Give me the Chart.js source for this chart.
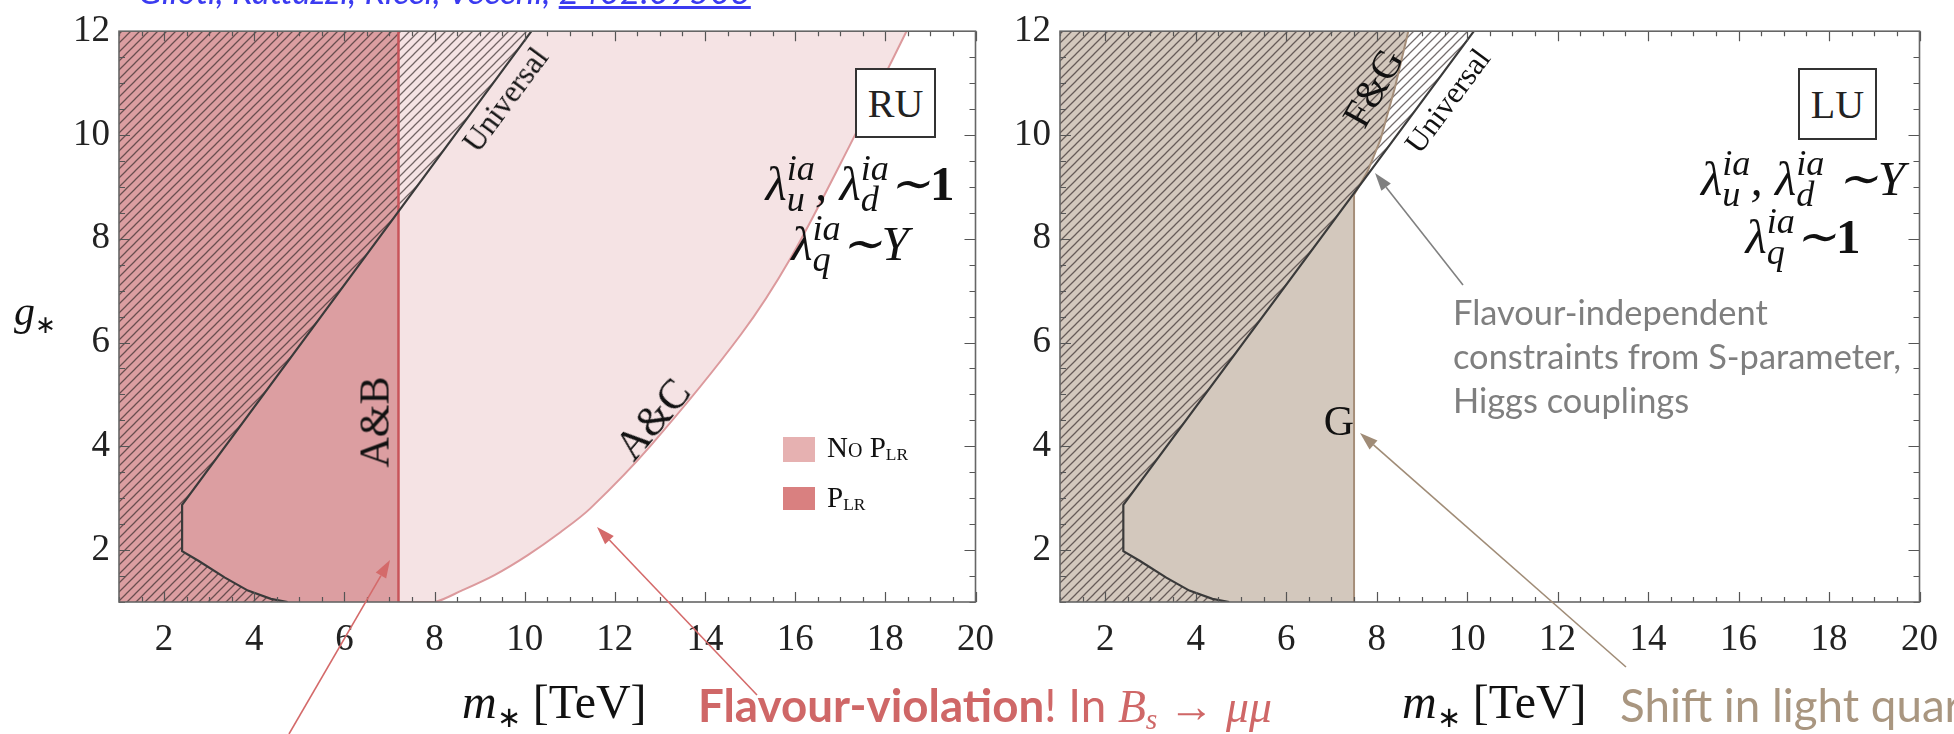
<!DOCTYPE html>
<html>
<head>
<meta charset="utf-8">
<script src="https://cdn.jsdelivr.net/npm/chart.js@4.4.1/dist/chart.umd.min.js"></script>
<style>
html, body { margin: 0; padding: 0; background: #fff; }
body { width: 1954px; height: 734px; position: relative; overflow: hidden; font-family: "Liberation Serif", serif; }
.wrap { position: absolute; top: 0; height: 734px; }
#wLeft { left: 0; width: 1010px; }
#wRight { left: 995px; width: 959px; }
.lbl { position: absolute; left: 0; top: 0; white-space: nowrap; line-height: 1; }
.bl { display: inline-block; width: 0; height: 0; }
.math { font-family: "Liberation Serif", serif; font-style: italic; font-size: 49px; color: #111; }
.ss { display: inline-block; vertical-align: -11px; font-size: 0.74em; line-height: 0.86; }
.ss span { display: block; }
.box { position: absolute; border: 2px solid #333; box-sizing: border-box; background: #fff;
       font-family: "Liberation Serif", serif; font-size: 40px; color: #222;
       display: flex; align-items: center; justify-content: center; }
.sw { position: absolute; }
svg { position: absolute; left: 0; top: 0; }
</style>
</head>
<body>

<div class="wrap" id="wLeft"><canvas id="ruChart"></canvas></div>
<div class="wrap" id="wRight"><canvas id="luChart"></canvas></div>

<script>
// ==========================
// DATA
// ==========================

// axes
const xTicks = [2, 4, 6, 8, 10, 12, 14, 16, 18, 20];
const yTicks = [2, 4, 6, 8, 10, 12];
const xRange = [1, 20];
const yRange = [1, 12];

// "Universal" bound (same in RU and LU), from top down to the m* axis
const universalM = [10.15, 2.4, 2.4, 2.77, 3.35, 3.86, 4.37, 4.74];
const universalG = [12, 2.87, 1.98, 1.79, 1.47, 1.22, 1.06, 1.0];

// RU: A&B bound (P_LR) at fixed m*
const abM = [7.2, 7.2];
const abG = [1, 12];

// RU: A&C bound (no P_LR)
const acM = [7.2, 8.0, 8.6, 9.33, 10.06, 10.8, 11.45, 12.8, 14.8, 15.9, 17.2, 18.47];
const acG = [1, 1.0, 1.22, 1.52, 1.9, 2.35, 2.8, 4.02, 6.16, 7.63, 9.78, 12];

// LU: G bound and F&G bound
const fgM = [7.5, 7.5, 7.8, 8.08, 8.4, 8.7];
const fgG = [1, 8.85, 9.3, 9.9, 10.9, 12];

const pts = (ms, gs) => ms.map((m, i) => ({ x: m, y: gs[i] }));

// hatch pattern for the universal exclusion
function makeHatch(color) {
    const s = 9;
    const c = document.createElement("canvas");
    c.width = s;
    c.height = s;
    const g = c.getContext("2d");
    g.strokeStyle = color;
    g.lineWidth = 1.25;
    g.beginPath();
    g.moveTo(0, s); g.lineTo(s, 0);
    g.moveTo(-s / 2, s / 2); g.lineTo(s / 2, -s / 2);
    g.moveTo(s / 2, s * 1.5); g.lineTo(s * 1.5, s / 2);
    g.stroke();
    return g.createPattern(c, "repeat");
}

// frame + inward ticks on all four sides
const frameTicks = {
    id: "frameTicks",
    afterDatasetsDraw(chart) {
        const { ctx, chartArea: a, scales: { x, y } } = chart;
        ctx.save();
        ctx.strokeStyle = "#555";
        ctx.lineWidth = 1.2;
        ctx.beginPath();
        for (let v = xRange[0]; v <= xRange[1]; v += 0.5) {
            const px = Math.round(x.getPixelForValue(v)) + 0.5;
            const len = xTicks.includes(v) ? 10 : 5;
            ctx.moveTo(px, a.bottom); ctx.lineTo(px, a.bottom - len);
            ctx.moveTo(px, a.top); ctx.lineTo(px, a.top + len);
        }
        for (let v = yRange[0]; v <= yRange[1]; v += 0.5) {
            const py = Math.round(y.getPixelForValue(v)) + 0.5;
            const len = yTicks.includes(v) ? 11 : 6;
            ctx.moveTo(a.left, py); ctx.lineTo(a.left + len, py);
            ctx.moveTo(a.right, py); ctx.lineTo(a.right - len, py);
        }
        ctx.stroke();
        ctx.lineWidth = 1.6;
        ctx.strokeStyle = "#666";
        ctx.strokeRect(a.left, a.top, a.right - a.left, a.bottom - a.top);
        ctx.restore();
    }
};

const tickFont = { family: "Liberation Serif", size: 37 };

function makeChart(id, datasets, yWidth, padRight) {
    return new Chart(document.getElementById(id), {
        type: "line",
        data: { datasets },
        options: {
            responsive: true,
            maintainAspectRatio: false,
            animation: false,
            layout: { padding: { top: 23, right: padRight, left: 0, bottom: 0 } },
            plugins: { legend: { display: false }, tooltip: { enabled: false } },
            elements: { point: { radius: 0 }, line: { tension: 0 } },
            scales: {
                x: {
                    type: "linear", min: xRange[0], max: xRange[1],
                    grid: { display: false, drawTicks: false }, border: { display: false },
                    afterBuildTicks: (a) => { a.ticks = xTicks.map(v => ({ value: v })); },
                    afterFit: (s) => { s.height = 132; },
                    ticks: { font: tickFont, color: "#222", padding: 16, maxRotation: 0, autoSkip: false }
                },
                y: {
                    type: "linear", min: yRange[0], max: yRange[1],
                    grid: { display: false, drawTicks: false }, border: { display: false },
                    afterBuildTicks: (a) => { a.ticks = yTicks.map(v => ({ value: v })); },
                    afterFit: (s) => { s.width = yWidth; },
                    ticks: { font: tickFont, color: "#222", padding: 9, autoSkip: false }
                }
            }
        },
        plugins: [frameTicks]
    });
}

const hatch = makeHatch("rgba(50,40,40,0.68)");
const hatchPoly = [{ x: 1, y: 12 }, ...pts(universalM, universalG), { x: 1, y: 1 }];

const universalLine = {
    data: pts(universalM, universalG), borderColor: "#3a3a3a", borderWidth: 2.2, fill: false, order: 0
};

// RU chart
makeChart("ruChart", [
    universalLine,
    { data: pts(abM, abG), borderColor: "#c8545a", borderWidth: 2.5, fill: false, order: 1 },
    { data: hatchPoly, borderColor: "transparent", borderWidth: 0, backgroundColor: hatch, fill: "shape", order: 2 },
    { data: pts(acM, acG), borderColor: "#dc9a9d", borderWidth: 2, backgroundColor: "#f5e3e4",
      fill: "end", tension: 0.3, order: 3 },
    { data: [{ x: 1, y: 1 }, { x: abM[0], y: 1 }], borderColor: "transparent", borderWidth: 0,
      backgroundColor: "#dc9ea1", fill: "end", order: 4 }
], 119, 22);

// LU chart
makeChart("luChart", [
    { ...universalLine, data: pts(universalM, universalG) },
    { data: pts(fgM, fgG), borderColor: "#a58e79", borderWidth: 2, fill: false, order: 1 },
    { data: hatchPoly.slice(), borderColor: "transparent", borderWidth: 0, backgroundColor: hatch, fill: "shape", order: 2 },
    { data: [{ x: 1, y: 1 }, ...pts(fgM, fgG)], borderColor: "transparent", borderWidth: 0,
      backgroundColor: "#d3c8bd", fill: "end", order: 4 }
], 65, 26);

// ==========================
// TEXT + ARROWS
// ==========================

function place(html, x, base, cls, css, align, fitW) {
    const d = document.createElement("div");
    d.className = "lbl " + (cls || "");
    d.innerHTML = html + '<span class="bl"></span>';
    Object.assign(d.style, css || {});
    document.body.appendChild(d);
    if (fitW) {
        const w0 = d.getBoundingClientRect().width;
        const fs = parseFloat(getComputedStyle(d).fontSize);
        d.style.fontSize = (fs * fitW / w0) + "px";
    }
    const r = d.getBoundingClientRect();
    const b = d.querySelector(".bl").getBoundingClientRect().top;
    const dx = align === "center" ? r.width / 2 : (align === "right" ? r.width : 0);
    d.style.left = (x - dx) + "px";
    d.style.top = (base - (b - r.top)) + "px";
    return d;
}

function rotated(text, cx, cy, deg, css) {
    const d = document.createElement("div");
    d.className = "lbl";
    d.textContent = text;
    Object.assign(d.style, css);
    document.body.appendChild(d);
    const w = d.offsetWidth, h = d.offsetHeight;
    d.style.left = (cx - w / 2) + "px";
    d.style.top = (cy - h / 2) + "px";
    d.style.transform = "rotate(" + deg + "deg)";
}

function box(text, x0, y0, x1, y1) {
    const d = document.createElement("div");
    d.className = "box";
    d.textContent = text;
    Object.assign(d.style, { left: x0 + "px", top: y0 + "px", width: (x1 - x0) + "px", height: (y1 - y0) + "px" });
    document.body.appendChild(d);
}

function swatch(color, x0, y0, x1, y1) {
    const d = document.createElement("div");
    d.className = "sw";
    Object.assign(d.style, { left: x0 + "px", top: y0 + "px", width: (x1 - x0) + "px", height: (y1 - y0) + "px", background: color });
    document.body.appendChild(d);
}

const lam = (s) => 'λ<span class="ss"><span>ia</span><span>' + s + "</span></span>";
const serif = { fontFamily: "Liberation Serif", color: "#111" };
const sans = { fontFamily: "Lato" };

// clipped citation at the very top
place('Glioti, Rattazzi, Ricci, Vecchi, <span style="text-decoration:underline">2402.09503</span>',
      138, 4, "", { fontFamily: "Lato", fontStyle: "italic", fontSize: "30px", color: "#3b3bf0" }, "left", 613);

// axis titles
place('<i>g</i><sub style="font-size:0.6em;vertical-align:-0.3em">∗</sub>', 14, 325, "", { ...serif, fontSize: "42px" }, "left");
place('<i>m</i><sub style="font-size:0.6em;vertical-align:-0.3em">∗</sub> [TeV]', 462, 718, "", { ...serif, fontSize: "48px" }, "left");
place('<i>m</i><sub style="font-size:0.6em;vertical-align:-0.3em">∗</sub> [TeV]', 1402, 718, "", { ...serif, fontSize: "48px" }, "left");

// slide captions
const red = place('<b>Flavour-violation</b>! In <i style="font-family:\'Liberation Serif\'">B<sub style="font-size:0.65em;vertical-align:-0.25em">s</sub> → μμ</i>',
      698, 722, "", { ...sans, fontSize: "40px", color: "#cf6767" }, "left", 574);
place("Shift in light quark couplings", 1620, 722, "", { ...sans, fontSize: red.style.fontSize, color: "#a99680" }, "left");

const g1 = place("Flavour-independent", 1453, 325, "", { ...sans, fontSize: "30px", color: "#7f7f7f" }, "left", 315);
place("constraints from S-parameter,", 1453, 369, "", { ...sans, fontSize: g1.style.fontSize, color: "#7f7f7f" }, "left");
place("Higgs couplings", 1453, 413, "", { ...sans, fontSize: g1.style.fontSize, color: "#7f7f7f" }, "left");

// RU panel
box("RU", 855, 68, 936, 138);
place(lam("u") + ", " + lam("d") + '∼<b style="font-style:normal">1</b>', 860, 200, "math", {}, "center");
place(lam("q") + "∼Y", 850, 260, "math", {}, "center");
rotated("Universal", 505, 99, -53.5, { ...serif, fontSize: "31px" });
rotated("A&B", 374, 422, -90, { ...serif, fontSize: "42px" });
rotated("A&C", 652, 419, -49.6, { ...serif, fontSize: "42px" });
swatch("#e6b1b1", 783, 437, 815, 462);
swatch("#d98080", 783, 487, 815, 510);
place('N<span style="font-variant:small-caps">o</span> P<sub style="font-size:0.6em;vertical-align:-0.2em;font-variant:small-caps">LR</sub>', 827, 457, "", { ...serif, fontSize: "29px" }, "left");
place('P<sub style="font-size:0.6em;vertical-align:-0.2em">LR</sub>', 827, 507, "", { ...serif, fontSize: "29px" }, "left");

// LU panel
box("LU", 1798, 68, 1877, 140);
place(lam("u") + ", " + lam("d") + " ∼Y", 1803, 195, "math", {}, "center");
place(lam("q") + '∼<b style="font-style:normal">1</b>', 1803, 253, "math", {}, "center");
rotated("Universal", 1447, 100, -53.5, { ...serif, fontSize: "31px" });
rotated("F&G", 1373, 88, -61, { ...serif, fontSize: "40px" });
place("G", 1339, 435, "", { ...serif, fontSize: "42px" }, "center");

// arrows
const arrows = [
    { from: [289, 734], to: [390, 560], color: "#d46a6a" },
    { from: [757, 695], to: [597, 527], color: "#d46a6a" },
    { from: [1463, 285], to: [1375, 173], color: "#808080" },
    { from: [1626, 667], to: [1360, 433], color: "#a08c77" }
];
const NS = "http://www.w3.org/2000/svg";
const svg = document.createElementNS(NS, "svg");
svg.setAttribute("width", 1954);
svg.setAttribute("height", 734);
arrows.forEach(a => {
    const [x0, y0] = a.from, [x1, y1] = a.to;
    const L = Math.hypot(x1 - x0, y1 - y0), ux = (x1 - x0) / L, uy = (y1 - y0) / L;
    const hl = 18, hw = 6;
    const bx = x1 - ux * hl, by = y1 - uy * hl;
    const line = document.createElementNS(NS, "line");
    line.setAttribute("x1", x0); line.setAttribute("y1", y0);
    line.setAttribute("x2", bx); line.setAttribute("y2", by);
    line.setAttribute("stroke", a.color); line.setAttribute("stroke-width", 1.6);
    svg.appendChild(line);
    const head = document.createElementNS(NS, "polygon");
    head.setAttribute("points", [x1, y1, bx - uy * hw, by + ux * hw, bx + uy * hw, by - ux * hw].join(","));
    head.setAttribute("fill", a.color);
    svg.appendChild(head);
});
document.body.appendChild(svg);
</script>
</body>
</html>
